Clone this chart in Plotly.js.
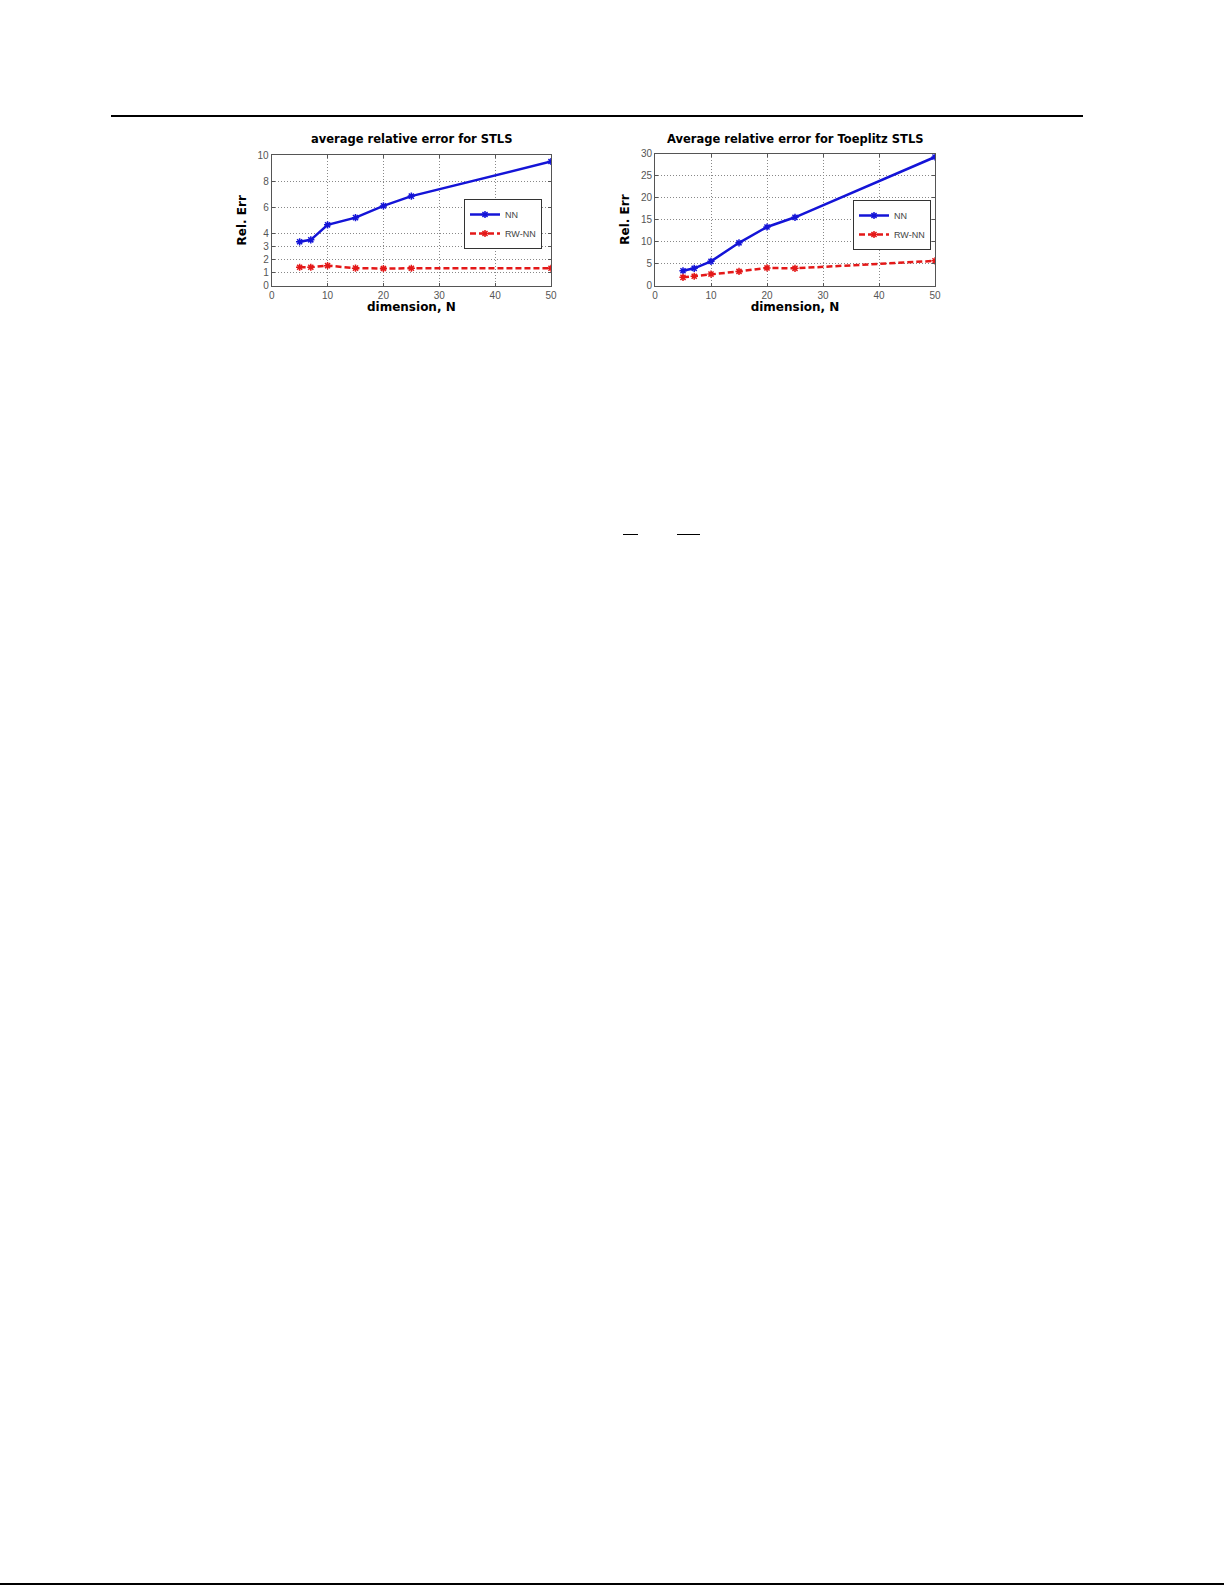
<!DOCTYPE html>
<html>
<head>
<meta charset="utf-8">
<script src="https://cdn.plot.ly/plotly-3.0.1.min.js"></script>
<style>
  html, body { margin: 0; padding: 0; background: #fff; }
  #page { position: relative; width: 1225px; height: 1585px; overflow: hidden; }
  #chart { position: absolute; left: 0; top: 0; width: 1225px; height: 1585px; }
  .rule { position: absolute; background: #000; }
</style>
</head>
<body>
<div id="page">
  <div id="chart"></div>
  <div class="rule" style="left:111px; top:115px; width:972px; height:2px;"></div>
  <div class="rule" style="left:623px; top:534px; width:15px; height:1px;"></div>
  <div class="rule" style="left:677px; top:534px; width:23px; height:1px;"></div>
  <div class="rule" style="left:0px; top:1583px; width:1224px; height:2px;"></div>
</div>
<script>
// dimension N
const dims = [5, 7, 10, 15, 20, 25, 50];

// average relative error for STLS
const stlsNN = [3.35, 3.5, 4.65, 5.2, 6.1, 6.85, 9.5];
const stlsRW = [1.4, 1.4, 1.52, 1.33, 1.3, 1.32, 1.32];

// average relative error for Toeplitz STLS
const toepNN = [3.35, 3.9, 5.5, 9.7, 13.3, 15.5, 29.2];
const toepRW = [1.85, 2.1, 2.6, 3.2, 4.0, 3.9, 5.6];

const leftYTicks = [0, 1, 2, 3, 4, 6, 8, 10];
const rightYTicks = [0, 5, 10, 15, 20, 25, 30];
const xTicks = [0, 10, 20, 30, 40, 50];

const W = 1225, H = 1585;
const px = (x) => x / W;
const py = (y) => 1 - y / H;

const BLUE = "rgb(20,20,215)";
const RED = "rgb(228,24,24)";

const tickFont = { family: "Liberation Sans, Arial, sans-serif", size: 10, color: "#555" };
const boldFont = { family: "DejaVu Sans, sans-serif", size: 11.5, color: "#000", weight: "bold" };

function series(x, y, name, color, dash, xa, ya, legend) {
  return {
    x, y, name,
    type: "scatter",
    mode: "lines+markers",
    xaxis: xa, yaxis: ya, legend,
    line: { color, width: 2.5, dash },
    marker: { symbol: "asterisk-open", size: 6, color, line: { color, width: 1.5 } },
  };
}

function xAxis(domain, anchor) {
  return {
    domain, anchor,
    range: [0, 50],
    tickvals: xTicks,
    ticks: "inside", ticklen: 3, tickcolor: "#555",
    showline: true, linecolor: "#555", linewidth: 1, mirror: "ticks",
    showgrid: true, gridcolor: "#888", griddash: "1px,2px", gridwidth: 1,
    zeroline: false,
    tickfont: tickFont,
    title: { text: "dimension, N", font: { ...boldFont, size: 12 }, standoff: 2 },
  };
}

function yAxis(domain, anchor, range, ticks) {
  return {
    domain, anchor,
    range,
    tickvals: ticks,
    ticks: "inside", ticklen: 3, tickcolor: "#555",
    showline: true, linecolor: "#555", linewidth: 1, mirror: "ticks",
    showgrid: true, gridcolor: "#888", griddash: "1px,2px", gridwidth: 1,
    zeroline: false,
    tickfont: tickFont,
    title: { text: "Rel. Err", font: { ...boldFont, size: 12 }, standoff: 8 },
  };
}

const legendStyle = {
  bgcolor: "#fff",
  bordercolor: "#333",
  borderwidth: 1,
  font: { family: "Liberation Sans, Arial, sans-serif", size: 9, color: "#444" },
  itemwidth: 30,
  tracegroupgap: 0,
  xanchor: "left",
  yanchor: "top",
};

const data = [
  series(dims, stlsNN, "NN", BLUE, "solid", "x", "y", "legend"),
  series(dims, stlsRW, "RW-NN", RED, "6px,3px", "x", "y", "legend"),
  series(dims, toepNN, "NN", BLUE, "solid", "x2", "y2", "legend2"),
  series(dims, toepRW, "RW-NN", RED, "6px,3px", "x2", "y2", "legend2"),
];

const layout = {
  width: W, height: H,
  margin: { l: 0, r: 0, t: 0, b: 0 },
  paper_bgcolor: "#fff",
  plot_bgcolor: "#fff",
  showlegend: true,
  xaxis: xAxis([px(271.7), px(551)], "y"),
  yaxis: yAxis([py(285.5), py(155)], "x", [0, 10], leftYTicks),
  xaxis2: xAxis([px(655), px(935)], "y2"),
  yaxis2: yAxis([py(285.5), py(153.5)], "x2", [0, 30], rightYTicks),
  legend: { ...legendStyle, x: px(464), y: py(199) },
  legend2: { ...legendStyle, x: px(853), y: py(200) },
  annotations: [
    {
      text: "average relative error for STLS",
      xref: "paper", yref: "paper",
      x: (px(271.7) + px(551)) / 2, y: py(139),
      xanchor: "center", yanchor: "middle",
      showarrow: false, font: boldFont,
    },
    {
      text: "Average relative error for Toeplitz STLS",
      xref: "paper", yref: "paper",
      x: (px(655) + px(935)) / 2, y: py(139),
      xanchor: "center", yanchor: "middle",
      showarrow: false, font: boldFont,
    },
  ],
};

Plotly.newPlot("chart", data, layout, { displayModeBar: false, staticPlot: true });
</script>
</body>
</html>
